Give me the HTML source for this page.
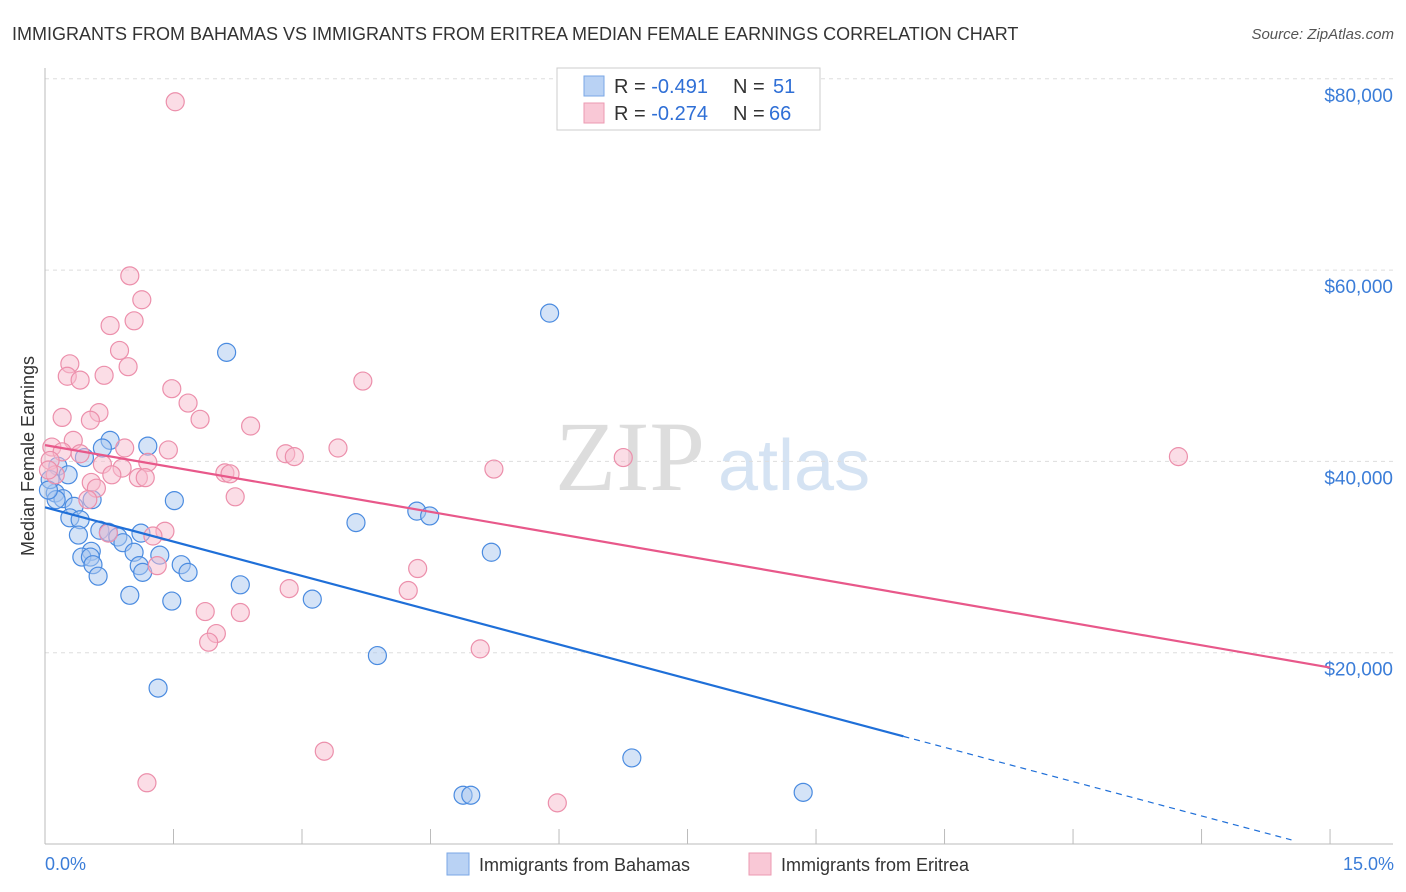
<!DOCTYPE html>
<html><head><meta charset="utf-8"><style>
body{margin:0;background:#fff;font-family:"Liberation Sans",sans-serif;}
svg{display:block}
</style></head><body>
<svg id="chart" width="1406" height="892" xmlns="http://www.w3.org/2000/svg">
<text x="12" y="40" font-size="18" fill="#333">IMMIGRANTS FROM BAHAMAS VS IMMIGRANTS FROM ERITREA MEDIAN FEMALE EARNINGS CORRELATION CHART</text>
<text x="1394" y="39" font-size="15" fill="#555" font-style="italic" text-anchor="end">Source: ZipAtlas.com</text>
<g>
<text x="555" y="490" font-size="100" fill="#ddd" font-family="Liberation Serif">ZIP</text>
<text x="718" y="490" font-size="72" fill="#d5e3f3">atlas</text>
</g>
<g id="grid"></g>
<g id="axes"></g>
<g id="pts"></g>
<g id="trend"></g>
<text transform="translate(34,456) rotate(-90)" font-size="18" fill="#333" text-anchor="middle">Median Female Earnings</text>
<g>
<rect x="557" y="68" width="263" height="62" fill="#fff" stroke="#ccc"/>
<rect x="584" y="76" width="20" height="20" fill="#b9d2f4" stroke="#7aa7e6"/>
<rect x="584" y="103" width="20" height="20" fill="#f9c8d6" stroke="#ec9ab2"/>
<text x="614" y="93" font-size="20" fill="#333">R = <tspan fill="#2f6fd6">-0.491</tspan><tspan x="733">N = </tspan><tspan fill="#2f6fd6" x="773">51</tspan></text>
<text x="614" y="120" font-size="20" fill="#333">R = <tspan fill="#2f6fd6">-0.274</tspan><tspan x="733">N = </tspan><tspan fill="#2f6fd6" x="769">66</tspan></text>
</g>
<g>
<rect x="447" y="853" width="22" height="22" fill="#b9d2f4" stroke="#7aa7e6"/>
<text x="479" y="871" font-size="18" fill="#333">Immigrants from Bahamas</text>
<rect x="749" y="853" width="22" height="22" fill="#f9c8d6" stroke="#ec9ab2"/>
<text x="781" y="871" font-size="18" fill="#333">Immigrants from Eritrea</text>
</g>
<text x="45" y="870" font-size="18" fill="#3b7dd8">0.0%</text>
<text x="1394" y="870" font-size="18" fill="#3b7dd8" text-anchor="end">15.0%</text>
</svg>
<script>
const yTicks=[20,40,60,80];
const yTickLabels=["$20,000","$40,000","$60,000","$80,000"];
const xTicks=[0,1.5,3,4.5,6,7.5,9,10.5,12,13.5,15];
const bahamasX=[2.12,5.89,0.76,1.20,0.67,0.46,0.15,0.27,0.12,0.21,0.55,0.34,1.51,0.29,0.41,3.63,4.34,4.49,0.64,0.74,0.39,1.12,0.85,0.91,0.54,1.04,1.34,5.21,0.43,0.53,1.10,1.59,0.56,1.14,0.62,1.67,2.28,0.99,1.48,3.12,3.88,1.32,6.85,4.88,4.97,8.85,0.06,0.13,0.04];
const bahamasY=[51.4,55.5,42.2,41.6,41.4,40.4,39.5,38.6,36.7,36.1,36.0,35.3,35.9,34.1,33.9,33.6,34.8,34.3,32.8,32.6,32.3,32.5,32.1,31.5,30.6,30.5,30.2,30.5,30.0,30.0,29.1,29.2,29.2,28.4,28.0,28.4,27.1,26.0,25.4,25.6,19.7,16.3,9.0,5.1,5.1,5.4,38.1,36.0,37.0];
const eritreaX=[1.52,0.99,1.13,0.76,1.04,0.87,0.29,0.97,0.26,0.41,0.69,3.71,1.48,1.67,0.63,0.20,0.53,1.81,2.40,0.33,0.08,0.93,1.44,3.42,0.20,0.41,2.81,2.91,6.75,13.23,0.67,1.20,0.90,5.24,2.10,2.16,0.78,1.09,1.17,0.54,0.60,2.22,0.50,1.40,0.74,1.26,1.31,4.35,2.85,4.24,1.87,2.28,2.00,1.91,5.08,3.26,1.19,5.98,0.06,0.12,0.04];
const eritreaY=[77.6,59.4,56.9,54.2,54.7,51.6,50.2,49.9,48.9,48.5,49.0,48.4,47.6,46.1,45.1,44.6,44.3,44.4,43.7,42.2,41.5,41.4,41.2,41.4,41.0,40.8,40.8,40.5,40.4,40.5,39.7,39.9,39.3,39.2,38.8,38.7,38.6,38.3,38.3,37.8,37.2,36.3,36.0,32.7,32.5,32.2,29.1,28.8,26.7,26.5,24.3,24.2,22.0,21.1,20.4,9.7,6.4,4.3,40.1,38.6,39.1];
const bahamasTrend=[35.2,-2.39];
const eritreaTrend=[41.7,-1.55];
const NS="http://www.w3.org/2000/svg";
const X=v=>45+v*85.67, Y=v=>844-v*9.565;
function mk(tag,attrs,parent){const e=document.createElementNS(NS,tag);for(const k in attrs)e.setAttribute(k,attrs[k]);parent.appendChild(e);return e;}
const grid=document.getElementById('grid'),axes=document.getElementById('axes'),pts=document.getElementById('pts'),trend=document.getElementById('trend');
yTicks.forEach((t,i)=>{
 const l=mk('line',{x1:45,x2:1395,y1:Y(t),y2:Y(t),stroke:'#ddd','stroke-dasharray':'4,4'},grid);
 
 
 const tx=mk('text',{x:1393,y:Y(t)+23,'font-size':19,fill:'#3b7dd8','text-anchor':'end'},grid);
 tx.textContent=yTickLabels[i];
 
 
});
const xa=mk('line',{x1:45,x2:1393,y1:844,y2:844,stroke:'#bbb'},axes);


const ya=mk('line',{x1:45,x2:45,y1:68,y2:844,stroke:'#bbb'},axes);


xTicks.forEach(t=>{
 const l=mk('line',{x1:X(t),x2:X(t),y1:829,y2:844,stroke:'#bbb'},axes);
 
 
});
function dots(xs,ys,fill,stroke,name){xs.forEach((v,i)=>{
 const c=mk('circle',{cx:X(v),cy:Y(ys[i]),r:9,fill:fill,'fill-opacity':0.5,stroke:stroke,'stroke-width':1.2},pts);
 
 
});}
dots(bahamasX,bahamasY,'#a9c8f0','#4a8be0','bahamas-point');
dots(eritreaX,eritreaY,'#f7bccd','#ec8fab','eritrea-point');
const f=(tr,x)=>tr[0]+tr[1]*x;
const b1=mk('line',{x1:X(0),y1:Y(f(bahamasTrend,0)),x2:X(10.02),y2:Y(f(bahamasTrend,10.02)),stroke:'#1f6fd8','stroke-width':2.2},trend);


const b2=mk('line',{x1:X(10.02),y1:Y(f(bahamasTrend,10.02)),x2:X(14.55),y2:Y(f(bahamasTrend,14.55)),stroke:'#1f6fd8','stroke-width':1.2,'stroke-dasharray':'6,5'},trend);


const e1=mk('line',{x1:X(0),y1:Y(f(eritreaTrend,0)),x2:X(15),y2:Y(f(eritreaTrend,15)),stroke:'#e8588a','stroke-width':2.2},trend);


</script>
</body></html>
